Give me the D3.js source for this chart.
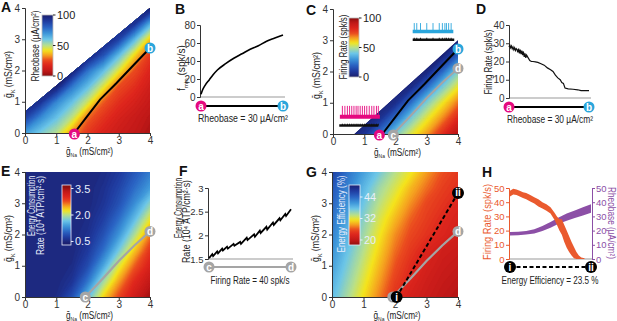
<!DOCTYPE html>
<html>
<head>
<meta charset="utf-8">
<script src="https://cdn.jsdelivr.net/npm/d3@7"></script>
<style>
body { margin: 0; background: #fff; }
svg { font-family: "Liberation Sans", Arial, sans-serif; }
</style>
</head>
<body>
<div id="wrapper"></div>
<script>
// ---------- data ----------
// heatmap grids: rows are gK = 0, 0.5 ... 4 ; columns are gNa = 0, 0.5 ... 4
const rheobaseGrid = [
    [68, 58, 50, 33, 22, 16, 12, 9, 5],
    [88, 72, 61, 49, 29, 21, 15, 11, 7],
    [100, 92, 73, 61, 47, 28, 20, 15, 10],
    [100, 100, 99, 76, 62, 45, 26, 20, 13],
    [100, 100, 100, 100, 77, 62, 44, 26, 17],
    [100, 100, 100, 100, 100, 84, 62, 41, 22],
    [100, 100, 100, 100, 100, 100, 88, 63, 38],
    [100, 100, 100, 100, 100, 100, 100, 92, 65],
    [100, 100, 100, 100, 100, 100, 100, 100, 100]
];
const firingGrid = [
    [0, 0, 8, 24, 42, 55, 66, 80, 94],
    [0, 0, 0, 7, 23, 42, 56, 68, 82],
    [0, 0, 0, 0, 6, 23, 43, 57, 70],
    [0, 0, 0, 0, 0, 5, 22, 42, 57],
    [0, 0, 0, 0, 0, 0, 3, 21, 43],
    [0, 0, 0, 0, 0, 0, 0, 2, 20],
    [0, 0, 0, 0, 0, 0, 0, 0, 2],
    [0, 0, 0, 0, 0, 0, 0, 0, 0],
    [0, 0, 0, 0, 0, 0, 0, 0, 0]
];
const energyGrid = [
    [0.5, 0.5, 0.55, 0.9, 1.6, 2.3, 2.8, 3.2, 3.5],
    [0.5, 0.5, 0.5, 0.65, 1.15, 1.9, 2.5, 3.0, 3.3],
    [0.5, 0.5, 0.5, 0.55, 0.85, 1.45, 2.15, 2.7, 3.1],
    [0.5, 0.5, 0.5, 0.5, 0.7, 1.1, 1.7, 2.35, 2.9],
    [0.5, 0.5, 0.5, 0.5, 0.6, 0.9, 1.35, 1.95, 2.6],
    [0.5, 0.5, 0.5, 0.5, 0.55, 0.75, 1.1, 1.6, 2.2],
    [0.5, 0.5, 0.5, 0.5, 0.5, 0.65, 0.9, 1.3, 1.8],
    [0.5, 0.5, 0.5, 0.5, 0.5, 0.6, 0.8, 1.1, 1.4],
    [0.5, 0.5, 0.5, 0.5, 0.5, 0.55, 0.7, 0.95, 1.2]
];
const efficiencyGrid = [
    [38, 34.5, 31, 27.5, 24, 22, 20.8, 19.8, 19],
    [39, 35.5, 32, 28.5, 25, 22.8, 21.3, 20.3, 19.6],
    [40, 36.5, 33, 29.5, 26, 23.5, 22, 20.8, 20.2],
    [41, 37.5, 34, 30.5, 27, 24.5, 22.6, 21.4, 20.8],
    [42, 38.5, 35, 31.5, 28, 25.5, 24, 22.8, 21.5],
    [43, 39.5, 36, 32.5, 29.5, 26.5, 24.8, 23.3, 22.2],
    [44, 40.8, 37.3, 33.8, 31, 28, 25.5, 24.2, 22.9],
    [45, 42, 38.5, 35, 32.5, 29.5, 27, 25, 23.8],
    [47, 43, 40, 37, 34, 31.5, 28.5, 26, 24.5]
];

// region where a value exists (gNa, gK)
const regionA = [[0, 0], [0, 0.68], [4, 4], [4, 0]];
const regionC = [[0.69, 0], [4, 3.0], [4, 0]];

// iso-lines drawn on the maps (gNa, gK)
const abCurve = [[1.58, 0], [2.0, 0.55], [2.4, 1.07], [2.93, 1.6], [3.5, 2.2], [4, 2.72]];
const cdCurve = [[1.93, 0], [2.5, 0.6], [3, 1.15], [3.5, 1.65], [4, 2.1]];
const iiiLine = [[2.05, 0], [4, 3.33]];

// B: minimum firing rate along a -> b
const bPos = [0, 0.02, 0.05, 0.1, 0.15, 0.2, 0.3, 0.4, 0.5, 0.6, 0.7, 0.8, 0.9, 1.0];
const bRate = [3, 8, 13, 19, 25, 30, 37, 43, 48, 53, 57, 62, 65.5, 69];

// D: firing rate along a -> b
const dPos = [0, 0.01, 0.02, 0.03, 0.04, 0.05, 0.06, 0.07, 0.08, 0.09, 0.1, 0.11, 0.12, 0.13, 0.14, 0.15,
    0.16, 0.17, 0.18, 0.19, 0.2, 0.21, 0.22, 0.24, 0.26, 0.28, 0.3, 0.33, 0.36, 0.4, 0.44, 0.48, 0.52,
    0.55, 0.58, 0.61, 0.64, 0.66, 0.68, 0.7, 0.74, 0.8, 0.86, 0.9, 1.0];
const dRate = [28, 29, 27.5, 28.5, 27, 28, 26.5, 27.5, 26, 27, 26.5, 25, 27, 24.5, 26.5, 24,
    26, 23.5, 25.5, 22.5, 24.5, 22, 23.5, 22, 20.5, 20, 20, 19.8, 19.5, 18.8, 18, 16.5, 15.5,
    14.5, 12.5, 11, 10, 8.5, 8, 5.5, 5, 4.8, 4.5, 4, 4];

// F: energy consumption along c -> d
const fPos = [0, 0.04, 0.05, 0.1, 0.11, 0.16, 0.17, 0.22, 0.23, 0.3, 0.31, 0.38, 0.39, 0.46, 0.47,
    0.55, 0.56, 0.62, 0.63, 0.7, 0.71, 0.78, 0.79, 0.86, 0.87, 0.93, 0.94, 1.0];
const fEnergy = [1.52, 1.6, 1.56, 1.66, 1.62, 1.72, 1.68, 1.76, 1.72, 1.82, 1.78, 1.86, 1.82, 1.95, 1.9,
    2.02, 1.97, 2.1, 2.05, 2.18, 2.12, 2.27, 2.22, 2.36, 2.32, 2.45, 2.41, 2.55];

// H: firing rate and rheobase along i -> ii (band low / high)
const hRatePos = [0, 0.04, 0.08, 0.12, 0.16, 0.2, 0.25, 0.3, 0.35, 0.4, 0.45, 0.5, 0.55, 0.58, 0.61,
    0.64, 0.67, 0.7, 0.73, 0.76, 0.79, 0.82, 0.85, 0.88, 0.92];
const hRateHi = [48, 49.5, 49, 48, 47, 46.5, 45, 43.5, 42, 40, 38.5, 36.5, 32.5, 30, 28, 28, 24, 20, 16, 12, 8.5, 5, 2.5, 1, 0.5];
const hRateLo = [44, 45.5, 45, 44, 43, 42, 40.5, 39, 37, 35.5, 34, 32, 27.5, 24, 20, 17, 12, 8, 5, 2.5, 0.5, 0, 0, 0, 0];
const hRheoPos = [0, 0.1, 0.2, 0.3, 0.4, 0.5, 0.6, 0.7, 0.8, 0.9, 1.0];
const hRheoLo = [16.6, 16.8, 17.2, 18, 19.8, 22, 24.8, 27, 28.8, 30.6, 32.5];
const hRheoHi = [19, 19.2, 19.8, 21, 23.2, 26, 29.2, 32, 34.2, 36.4, 38.5];

// C insets: spike positions (gNa) of the example voltage traces
const magentaSpikes = [0.3, 0.38, 0.46, 0.53, 0.6, 0.67, 0.74, 0.8, 0.87, 0.94, 1.01, 1.08, 1.16, 1.24, 1.31, 1.39, 1.45];
const cyanSpikes = [2.6, 2.68, 2.8, 3.0, 3.2, 3.4, 3.5, 3.58, 3.63, 3.7, 3.78];

// colour ramp (jet-like, low -> high)
const jetPos = [0, 0.1, 0.2, 0.3, 0.4, 0.5, 0.58, 0.66, 0.74, 0.82, 0.92, 1];
const jetStops = ["#1b1f6e", "#1f3a9e", "#2a62c2", "#3d95d9", "#6cc6e8", "#b7df8c",
    "#f4e51c", "#f5a020", "#ea4a1f", "#de261d", "#c01818", "#8a0e0e"];

// ---------- drawing ----------
const magenta = "#e5097f", cyan = "#2aa6dc", grey = "#a5a5a5";
const fmtInt = d3.format('d');

const jetScale = d3.scaleLinear()
    .domain(jetPos)
    .range(jetStops)
    .clamp(true);

const svg = d3.select('#wrapper')
    .append('svg')
    .attr('width', 617)
    .attr('height', 321);
const defs = svg.append('defs');

function text(g, x, y, s, o = {}) {
    const t = g.append('text')
        .attr('x', x).attr('y', y)
        .attr('font-size', o.size || 10)
        .attr('fill', o.fill || '#222')
        .attr('text-anchor', o.anchor || 'middle')
        .text(s);
    if (o.rotate) t.attr('transform', `rotate(${o.rotate},${x},${y})`);
    if (o.weight) t.attr('font-weight', o.weight);
    if (o.len) t.attr('textLength', o.len).attr('lengthAdjust', 'spacingAndGlyphs');
    return t;
}

function gLabel(g, x, y, sub, rotate) {
    const t = g.append('text')
        .attr('x', x).attr('y', y)
        .attr('font-size', 10)
        .attr('fill', '#222')
        .attr('text-anchor', 'middle')
        .attr('textLength', 47).attr('lengthAdjust', 'spacingAndGlyphs');
    if (rotate) t.attr('transform', `rotate(${rotate},${x},${y})`);
    t.append('tspan').text('ḡ');
    t.append('tspan').attr('dy', 2.5).attr('font-size', 6).text(sub);
    t.append('tspan').attr('dy', -2.5).text(' (mS/cm²)');
}

function marker(g, cx, cy, fill, label, r = 5.5) {
    g.append('circle').attr('cx', cx).attr('cy', cy).attr('r', r).attr('fill', fill);
    text(g, cx, cy + 3.5, label, { size: 10, fill: '#fff', weight: 'bold' });
}

function styleAxis(sel, color = '#333', size = 10) {
    sel.select('.domain').attr('stroke', color);
    sel.selectAll('.tick line').attr('stroke', color);
    sel.selectAll('.tick text').attr('fill', color).attr('font-size', size);
    sel.attr('font-family', null).attr('font-size', null);
}

function heatPanel(p) {
    const x = d3.scaleLinear().domain([0, 4]).range([p.left, p.right]);
    const y = d3.scaleLinear().domain([0, 4]).range([p.bottom, p.top]);
    const g = svg.append('g');

    const clipId = 'clip' + p.id;
    defs.append('clipPath').attr('id', clipId)
        .append('path')
        .attr('d', d3.line().x(d => x(d[0])).y(d => y(d[1]))(p.region) + 'Z');

    const values = p.grid.flat();
    const lo = d3.min(values), hi = d3.max(values);
    const n = 70, step = (hi - lo) / n;
    const thresholds = d3.range(n).map(k => lo + k * step);
    const bands = d3.contours().size([9, 9]).thresholds(thresholds)(values);
    const proj = d3.geoTransform({
        point: function(px, py) {
            this.stream.point(x((px - 0.5) * 0.5), y((py - 0.5) * 0.5));
        }
    });
    g.append('g')
        .attr('clip-path', `url(#${clipId})`)
        .selectAll('path')
        .data(bands)
        .join('path')
        .attr('d', d3.geoPath(proj))
        .attr('fill', d => p.color(d.value + step / 2))
        .attr('stroke', d => p.color(d.value + step / 2))
        .attr('stroke-width', 0.3);

    // axes
    const xAxis = g.append('g')
        .attr('transform', `translate(0,${p.bottom})`)
        .call(d3.axisBottom(x).tickValues([0, 1, 2, 3, 4]).tickFormat(fmtInt).tickSize(3).tickPadding(0.5));
    styleAxis(xAxis);
    const yAxis = g.append('g')
        .attr('transform', `translate(${p.left},0)`)
        .call(d3.axisLeft(y).tickValues([0, 1, 2, 3, 4]).tickFormat(fmtInt).tickSize(3).tickPadding(2));
    styleAxis(yAxis);
    gLabel(g, (p.left + p.right) / 2 + 2, p.bottom + 21.5, 'Na');
    gLabel(g, p.left - 13, (p.top + p.bottom) / 2 + 4, 'K', -90);

    // colour bar
    const cb = p.bar;
    const cy = d3.scaleLinear().domain(cb.domain).range([cb.y1, cb.y0]);
    const gradId = 'grad' + p.id;
    const grad = defs.append('linearGradient').attr('id', gradId)
        .attr('x1', 0).attr('y1', 1).attr('x2', 0).attr('y2', 0);
    d3.range(31).forEach(k => {
        const v = cb.domain[0] + (cb.domain[1] - cb.domain[0]) * k / 30;
        grad.append('stop').attr('offset', k / 30).attr('stop-color', p.color(v));
    });
    g.append('rect')
        .attr('x', cb.x).attr('y', cb.y0)
        .attr('width', cb.w).attr('height', cb.y1 - cb.y0)
        .attr('fill', `url(#${gradId})`)
        .attr('stroke', cb.border).attr('stroke-width', 0.8);
    cb.ticks.forEach((v, i) => {
        g.append('line')
            .attr('x1', cb.x + cb.w).attr('x2', cb.x + cb.w + 2.5)
            .attr('y1', cy(v)).attr('y2', cy(v))
            .attr('stroke', cb.textColor);
        text(g, cb.x + cb.w + 4, cy(v) + 4, cb.tickLabels[i], { anchor: 'start', fill: cb.textColor, size: 11 });
    });
    cb.title.forEach((s, i) => {
        text(g, cb.titleX[i], cb.titleY, s, {
            rotate: -90, fill: cb.textColor, size: 10.5, anchor: cb.titleAnchor, len: cb.titleLen[i]
        });
    });

    text(svg, p.letterX, p.letterY, p.letter, { size: 14, weight: 'bold', anchor: 'start', fill: '#111' });
    return { g, x, y };
}

const line = (x, y) => d3.line().x(d => x(d[0])).y(d => y(d[1]));

// ---- A ----
const A = heatPanel({
    id: 'A', grid: rheobaseGrid, region: regionA,
    left: 25, right: 150, top: 8, bottom: 133,
    color: v => jetScale(1 - v / 100),
    bar: {
        x: 42, w: 11, y0: 15, y1: 76, domain: [0, 100], ticks: [0, 50, 100], tickLabels: ['0', '50', '100'],
        border: '#bbb', textColor: '#222', title: ['Rheobase (µA/cm²)'], titleLen: [71],
        titleX: [38.5], titleY: 46, titleAnchor: 'middle'
    },
    letter: 'A', letterX: 1, letterY: 12
});
A.g.append('path').attr('d', line(A.x, A.y)(abCurve))
    .attr('fill', 'none').attr('stroke', '#000').attr('stroke-width', 2);
marker(A.g, A.x(abCurve[0][0]), A.y(0) + 1, magenta, 'a');
marker(A.g, A.x(4), A.y(abCurve[abCurve.length - 1][1]), cyan, 'b');

// ---- C ----
const C = heatPanel({
    id: 'C', grid: firingGrid, region: regionC,
    left: 333, right: 458, top: 9, bottom: 134,
    color: v => jetScale(v / 100),
    bar: {
        x: 349, w: 10, y0: 18, y1: 77, domain: [0, 100], ticks: [0, 50, 100], tickLabels: ['0', '50', '100'],
        border: '#bbb', textColor: '#222', title: ['Firing Rate (spk/s)'], titleLen: [65],
        titleX: [346.5], titleY: 47, titleAnchor: 'middle'
    },
    letter: 'C', letterX: 306, letterY: 15
});
// example voltage traces
const trace = (g, x, y, x0, x1, yBase, spikes, yTop, color, base) => {
    g.append('line').attr('x1', x(x0)).attr('x2', x(x1)).attr('y1', y(yBase)).attr('y2', y(yBase))
        .attr('stroke', color).attr('stroke-width', base);
    g.selectAll(null).data(spikes).join('line')
        .attr('x1', d => x(d)).attr('x2', d => x(d))
        .attr('y1', y(yBase)).attr('y2', y(yTop))
        .attr('stroke', color).attr('stroke-width', 0.9);
};
trace(C.g, C.x, C.y, 0.22, 1.5, 0.55, magentaSpikes, 0.9, magenta, 4);
trace(C.g, C.x, C.y, 0.2, 1.45, 0.27, magentaSpikes, 0.33, '#111', 2.5);
trace(C.g, C.x, C.y, 2.55, 3.85, 3.28, cyanSpikes, 3.55, cyan, 3.5);
trace(C.g, C.x, C.y, 2.55, 3.88, 3.02, cyanSpikes, 3.08, '#111', 2.5);
C.g.append('path').attr('d', line(C.x, C.y)(cdCurve))
    .attr('fill', 'none').attr('stroke', grey).attr('stroke-width', 2);
C.g.append('path').attr('d', line(C.x, C.y)(abCurve))
    .attr('fill', 'none').attr('stroke', '#000').attr('stroke-width', 2);
marker(C.g, C.x(cdCurve[0][0]), C.y(0) + 1, grey, 'c');
marker(C.g, C.x(abCurve[0][0]) - 3, C.y(0) + 1, magenta, 'a');
marker(C.g, C.x(4), C.y(cdCurve[cdCurve.length - 1][1]), grey, 'd');
marker(C.g, C.x(4), C.y(abCurve[abCurve.length - 1][1]), cyan, 'b');

// ---- E ----
const E = heatPanel({
    id: 'E', grid: energyGrid, region: [[0, 0], [0, 4], [4, 4], [4, 0]],
    left: 25, right: 150, top: 172, bottom: 297,
    color: v => jetScale((v - 0.4) / 3.2),
    bar: {
        x: 62, w: 9, y0: 185, y1: 245, domain: [0.3, 3.7], ticks: [0.5, 2.0, 3.5], tickLabels: ['0.5', '2.0', '3.5'],
        border: '#e8eefc', textColor: '#e8eefc', title: ['Energy Consumption', 'Rate (10⁴ ATP/cm²·s)'],
        titleLen: [60, 79], titleX: [35, 44], titleY: 176, titleAnchor: 'end'
    },
    letter: 'E', letterX: 1, letterY: 176
});
E.g.append('path').attr('d', line(E.x, E.y)(cdCurve))
    .attr('fill', 'none').attr('stroke', grey).attr('stroke-width', 2.2);
marker(E.g, E.x(cdCurve[0][0]), E.y(0), grey, 'c');
marker(E.g, E.x(4), E.y(cdCurve[cdCurve.length - 1][1]), grey, 'd');

// ---- G ----
const G = heatPanel({
    id: 'G', grid: efficiencyGrid, region: [[0, 0], [0, 4], [4, 4], [4, 0]],
    left: 332, right: 458, top: 172, bottom: 297,
    color: v => jetScale((51 - v) / 34),
    bar: {
        x: 349, w: 11, y0: 185, y1: 245, domain: [17.2, 50.7], ticks: [20, 32, 44], tickLabels: ['20', '32', '44'],
        border: '#e8eefc', textColor: '#e8eefc', title: ['Energy Efficiency (%)'], titleLen: [77],
        titleX: [345], titleY: 214, titleAnchor: 'middle'
    },
    letter: 'G', letterX: 306, letterY: 177
});
G.g.append('path').attr('d', line(G.x, G.y)(cdCurve))
    .attr('fill', 'none').attr('stroke', grey).attr('stroke-width', 2.2);
G.g.append('path').attr('d', line(G.x, G.y)(iiiLine))
    .attr('fill', 'none').attr('stroke', '#000').attr('stroke-width', 2).attr('stroke-dasharray', '4,2.5');
marker(G.g, G.x(cdCurve[0][0]), G.y(0), grey, 'c');
marker(G.g, G.x(4), G.y(cdCurve[cdCurve.length - 1][1]), grey, 'd');
marker(G.g, G.x(iiiLine[0][0]), G.y(0), '#000', 'i', 6);
marker(G.g, G.x(4), G.y(iiiLine[1][1]), '#000', 'ii', 6);

// ---- small line panels ----
function linePanel(p) {
    const g = svg.append('g');
    const x = d3.scaleLinear().domain([0, 1]).range([p.x0, p.x1]);
    const y = d3.scaleLinear().domain(p.yDomain).range([p.yBottom, p.yTop]);
    g.append('line').attr('x1', p.axisX).attr('x2', p.x1 + 2)
        .attr('y1', p.yBottom).attr('y2', p.yBottom).attr('stroke', '#999').attr('stroke-width', 1);
    const ya = g.append('g').attr('transform', `translate(${p.axisX},0)`)
        .call(d3.axisLeft(y).tickValues(p.ticks).tickFormat(d => d).tickSize(3).tickPadding(1.5));
    styleAxis(ya, p.axisColor || '#333', p.tickSize || 10);
    text(svg, p.letterX, p.letterY, p.letter, { size: 14, weight: 'bold', anchor: 'start', fill: '#111' });
    return { g, x, y };
}

function pathBar(g, x0, x1, yy, stroke, dash, m0, m1) {
    g.append('line').attr('x1', x0).attr('x2', x1).attr('y1', yy).attr('y2', yy)
        .attr('stroke', stroke).attr('stroke-width', 2.2).attr('stroke-dasharray', dash);
    marker(g, x0, yy, m0[0], m0[1], m0[2] || 5.5);
    marker(g, x1, yy, m1[0], m1[1], m1[2] || 5.5);
}

// ---- B ----
const B = linePanel({
    x0: 201, x1: 283, axisX: 200, yDomain: [0, 80], yBottom: 97, yTop: 25,
    ticks: [0, 20, 40, 60, 80], letter: 'B', letterX: 175, letterY: 14
});
B.g.append('path')
    .attr('d', d3.line().x((d, i) => B.x(bPos[i])).y(d => B.y(d)).curve(d3.curveMonotoneX)(bRate))
    .attr('fill', 'none').attr('stroke', '#000').attr('stroke-width', 1.6);
pathBar(B.g, 201, 283, 106, '#000', null, [magenta, 'a'], [cyan, 'b']);
text(B.g, 243, 122, 'Rheobase = 30 µA/cm²', { len: 90 });
{
    const t = B.g.append('text').attr('x', 185).attr('y', 68).attr('font-size', 10).attr('fill', '#222')
        .attr('text-anchor', 'middle').attr('transform', 'rotate(-90,185,68)')
        .attr('textLength', 46).attr('lengthAdjust', 'spacingAndGlyphs');
    t.append('tspan').text('f');
    t.append('tspan').attr('dy', 2.5).attr('font-size', 6).text('min');
    t.append('tspan').attr('dy', -2.5).text(' (spk/s)');
}

// ---- D ----
const D = linePanel({
    x0: 509, x1: 589, axisX: 509, yDomain: [0, 40], yBottom: 98, yTop: 25,
    ticks: [0, 10, 20, 30, 40], letter: 'D', letterX: 476, letterY: 14
});
D.g.append('path')
    .attr('d', d3.line().x((d, i) => D.x(dPos[i])).y(d => D.y(d))(dRate))
    .attr('fill', 'none').attr('stroke', '#111').attr('stroke-width', 1.2);
pathBar(D.g, 509, 589, 107, '#000', null, [magenta, 'a'], [cyan, 'b']);
text(D.g, 550, 123, 'Rheobase = 30 µA/cm²', { len: 86 });
text(D.g, 492, 62, 'Firing Rate (spk/s)', { rotate: -90, len: 65 });

// ---- F ----
const F = linePanel({
    x0: 209, x1: 291, axisX: 208, yDomain: [1.5, 3], yBottom: 259, yTop: 188,
    ticks: [1.5, 2, 2.5, 3], letter: 'F', letterX: 179, letterY: 176, tickSize: 9.5
});
F.g.append('path')
    .attr('d', d3.line().x((d, i) => F.x(fPos[i])).y(d => F.y(d))(fEnergy))
    .attr('fill', 'none').attr('stroke', '#000').attr('stroke-width', 1.8);
pathBar(F.g, 209, 291, 267, grey, null, [grey, 'c'], [grey, 'd']);
text(F.g, 250, 284, 'Firing Rate = 40 spk/s', { len: 79 });
text(F.g, 182, 178, 'Energy Consumption', { rotate: -90, anchor: 'end', len: 60, size: 10 });
text(F.g, 190, 180, 'Rate (10⁴ ATP/cm²·s)', { rotate: -90, anchor: 'end', len: 83, size: 10 });

// ---- H ----
const frColor = "#ea5a2e", rbColor = "#8c4fa6";
const H = linePanel({
    x0: 510, x1: 591, axisX: 509, yDomain: [0, 50], yBottom: 259, yTop: 188,
    ticks: [0, 10, 20, 30, 40, 50], letter: 'H', letterX: 482, letterY: 177, axisColor: frColor, tickSize: 9.5
});
const yR = H.y;
const ra = H.g.append('g').attr('transform', 'translate(592,0)')
    .call(d3.axisRight(yR).tickValues([0, 10, 20, 30, 40, 50]).tickSize(3).tickPadding(1));
styleAxis(ra, rbColor, 9.5);
H.g.append('path')
    .attr('d', d3.area().x((d, i) => H.x(hRheoPos[i])).y0((d, i) => yR(hRheoLo[i])).y1(d => yR(d))(hRheoHi))
    .attr('fill', rbColor);
H.g.append('path')
    .attr('d', d3.area().x((d, i) => H.x(hRatePos[i])).y0((d, i) => H.y(hRateLo[i])).y1(d => H.y(d))(hRateHi))
    .attr('fill', frColor);
pathBar(H.g, 510, 591, 267, '#000', '4,2.5', ['#000', 'i', 6], ['#000', 'ii', 6]);
text(H.g, 550, 284, 'Energy Efficiency = 23.5 %', { len: 97 });
text(H.g, 491, 222, 'Firing Rate (spk/s)', { rotate: -90, fill: frColor, len: 76 });
text(H.g, 608, 223, 'Rheobase (µA/cm²)', { rotate: 90, fill: rbColor, len: 72, size: 10 });
</script>
</body>
</html>
